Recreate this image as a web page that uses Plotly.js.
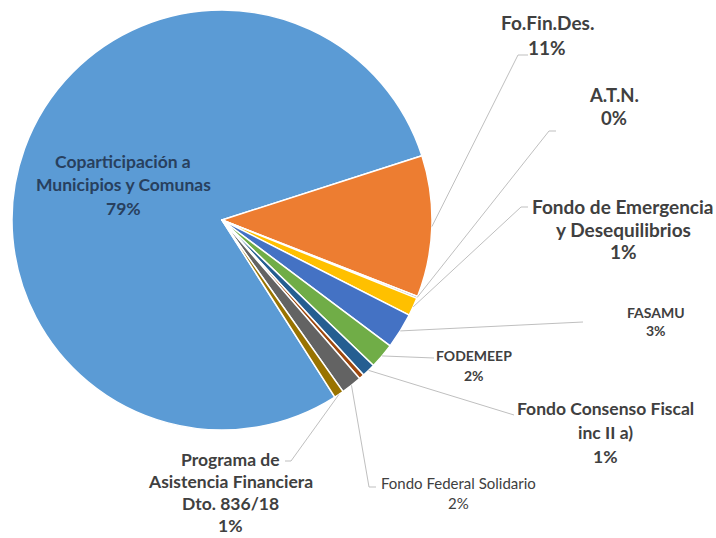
<!DOCTYPE html>
<html>
<head>
<meta charset="utf-8">
<script src="https://cdn.plot.ly/plotly-3.0.1.min.js"></script>
<style>html,body{margin:0;padding:0;background:#fff;}#chart{width:716px;height:538px;}</style>
</head>
<body>
<div id="chart"></div>
<script>
// ---- data ----
const categories = [
  "Coparticipación a Municipios y Comunas",
  "Fo.Fin.Des.",
  "A.T.N.",
  "Fondo de Emergencia y Desequilibrios",
  "FASAMU",
  "FODEMEEP",
  "Fondo Consenso Fiscal inc II a)",
  "Otro",
  "Fondo Federal Solidario",
  "Programa de Asistencia Financiera Dto. 836/18"
];
const values = [79.2, 10.9, 0.15, 1.4, 2.75, 1.95, 1.05, 0.4, 1.6, 0.75];
const colors = ["#5B9BD5","#ED7D31","#A5A5A5","#FFC000","#4472C4","#70AD47","#255E91","#9E480E","#636363","#997300"];
// label lines (name part) for each category; null = no label
const labelLines = [
  ["Coparticipación a","Municipios y Comunas"],
  ["Fo.Fin.Des."],
  ["A.T.N."],
  ["Fondo de Emergencia","y Desequilibrios"],
  ["FASAMU"],
  ["FODEMEEP"],
  ["Fondo Consenso Fiscal","inc II a)"],
  null,
  ["Fondo Federal Solidario"],
  ["Programa de","Asistencia Financiera","Dto. 836/18"]
];

// ---- layout constants (pixels) ----
const W = 716, H = 538;
const CX = 222, CY = 220, R = 210;
const ROT = 147.5;
// label block: center x, first line y, line step, font size, weight, color, leader [anchor, elbow]
const labelStyle = [
  {x:123, y:162, step:23, size:17.5, w:700, c:"#28405e", leader:null},
  {x:547, y:22, step:25, size:19, w:700, c:"#404040", leader:[[528,55],[518,55]]},
  {x:614, y:95, step:23, size:18.5, w:700, c:"#404040", leader:[[556,131],[549,131]]},
  {x:623, y:207, step:22, size:19, w:700, c:"#404040", leader:[[528,207],[521,207]]},
  {x:656, y:312, step:18, size:14, w:700, c:"#404040", leader:[[583,322],null]},
  {x:474, y:355, step:20, size:14, w:700, c:"#404040", leader:[[434,358],null]},
  {x:605, y:408, step:24, size:17.5, w:700, c:"#404040", leader:[[514,415],null]},
  null,
  {x:458, y:483, step:20, size:15, w:400, c:"#404040", leader:[[376,487],[369,487]]},
  {x:231, y:459, step:22, size:17.5, w:700, c:"#404040", leader:[[285,461],[291,461]]}
];

const total = values.reduce((a,b)=>a+b,0);
const px2x = p => p / W;
const py2y = p => 1 - p / H;

const annotations = [];
const shapes = [];
let acc = 0;
values.forEach((v, i) => {
  const midFrac = (acc + v/2) / total;
  acc += v;
  const st = labelStyle[i];
  if (!st) return;
  const pct = Math.round(v / total * 100) + "%";
  const lines = labelLines[i].concat([pct]);
  lines.forEach((t, k) => {
    annotations.push({
      xref:"paper", yref:"paper", x:px2x(st.x), y:py2y(st.y + k*st.step),
      xanchor:"center", yanchor:"middle", showarrow:false, text:t,
      font:{family:"Lato, 'Open Sans', sans-serif", size:st.size, color:st.c, weight:st.w}
    });
  });
  if (st.leader) {
    const ang = (ROT + midFrac*360) * Math.PI/180;
    const ex = CX + R*Math.sin(ang), ey = CY - R*Math.cos(ang);
    const pts = [st.leader[0]];
    if (st.leader[1]) pts.push(st.leader[1]);
    pts.push([ex, ey]);
    let path = "M " + pts.map(p => px2x(p[0]) + "," + py2y(p[1])).join(" L ");
    shapes.push({type:"path", xref:"paper", yref:"paper", path:path,
      line:{color:"#bfbfbf", width:1}});
  }
});

const trace = {
  type:"pie", labels:categories, values:values, sort:false,
  direction:"clockwise", rotation:ROT, textinfo:"none", hoverinfo:"label+percent",
  marker:{colors:colors, line:{color:"#ffffff", width:1.5}},
  domain:{x:[(CX-R)/W, (CX+R)/W], y:[1-(CY+R)/H, 1-(CY-R)/H]},
  showlegend:false
};

Plotly.newPlot("chart", [trace], {
  width:W, height:H, margin:{l:0,r:0,t:0,b:0},
  paper_bgcolor:"#ffffff", plot_bgcolor:"#ffffff",
  showlegend:false, annotations:annotations, shapes:shapes
}, {displayModeBar:false, staticPlot:true});
</script>
</body>
</html>
